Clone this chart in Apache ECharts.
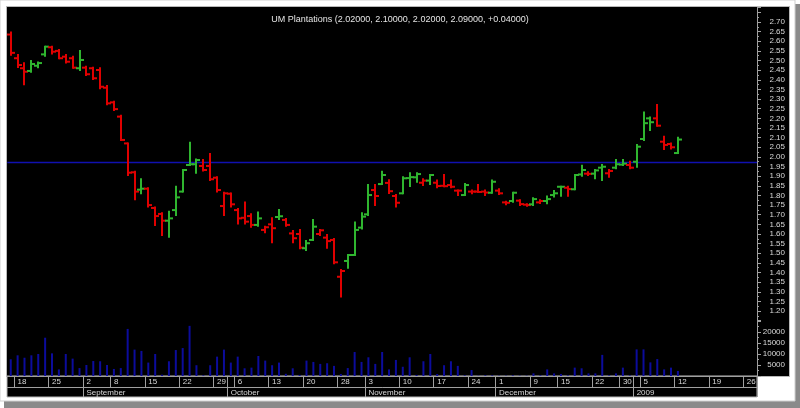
<!DOCTYPE html>
<html><head><meta charset="utf-8">
<script src="https://cdn.jsdelivr.net/npm/echarts@6/dist/echarts.min.js"></script>
<style>html,body{margin:0;padding:0;background:#fff}#c{width:800px;height:408px}</style>
</head><body><div id="c"></div>
<script>
const titleText = 'UM Plantations (2.02000, 2.10000, 2.02000, 2.09000, +0.04000)';
const dates = [
'2008-08-15',
'2008-08-18','2008-08-19','2008-08-20','2008-08-21','2008-08-22',
'2008-08-25','2008-08-26','2008-08-27','2008-08-28','2008-08-29',
'2008-09-02','2008-09-03','2008-09-04','2008-09-05',
'2008-09-08','2008-09-09','2008-09-10','2008-09-11','2008-09-12',
'2008-09-15','2008-09-16','2008-09-17','2008-09-18','2008-09-19',
'2008-09-22','2008-09-23','2008-09-24','2008-09-25','2008-09-26',
'2008-09-29','2008-09-30','2008-10-03',
'2008-10-06','2008-10-07','2008-10-08','2008-10-09','2008-10-10',
'2008-10-13','2008-10-14','2008-10-15','2008-10-16','2008-10-17',
'2008-10-20','2008-10-21','2008-10-22','2008-10-23','2008-10-24',
'2008-10-28','2008-10-29','2008-10-30','2008-10-31',
'2008-11-03','2008-11-04','2008-11-05','2008-11-06','2008-11-07',
'2008-11-10','2008-11-11','2008-11-12','2008-11-13','2008-11-14',
'2008-11-17','2008-11-18','2008-11-19','2008-11-20','2008-11-21',
'2008-11-24','2008-11-25','2008-11-26','2008-11-27',
'2008-12-01','2008-12-02','2008-12-03','2008-12-04','2008-12-05',
'2008-12-09','2008-12-10','2008-12-11','2008-12-12',
'2008-12-15','2008-12-16','2008-12-17','2008-12-18','2008-12-19',
'2008-12-22','2008-12-23','2008-12-24','2008-12-26',
'2008-12-30','2008-12-31',
'2009-01-02',
'2009-01-05','2009-01-06','2009-01-07','2009-01-08','2009-01-09',
'2009-01-12','2009-01-13','2009-01-14','2009-01-15','2009-01-16',
'2009-01-19','2009-01-20','2009-01-21','2009-01-22','2009-01-23',
'2009-01-26','2009-01-27'
];
const opens = [2.635,2.512,2.46,2.446,2.473,2.532,2.569,2.55,2.52,2.512,
2.46,2.463,2.46,2.451,2.359,2.283,2.209,2.07,1.92,1.83,
1.835,1.735,1.704,1.669,1.724,1.82,1.958,1.962,1.953,1.953,
1.892,1.745,1.809,1.724,1.684,1.693,1.647,1.621,1.65,1.688,
1.673,1.603,1.60,1.526,1.569,1.60,1.581,1.569,1.378,1.46,
1.491,1.633,1.702,1.828,1.859,1.865,1.797,1.811,1.89,1.894,
1.866,1.877,1.866,1.85,1.854,1.825,1.802,1.82,1.82,1.82,
1.814,1.825,1.764,1.771,1.773,1.752,1.754,1.764,1.771,1.802,
1.845,1.84,1.832,1.909,1.913,1.913,1.944,1.915,1.944,1.96,
1.958,1.975,2.093,2.20,2.20,2.079,2.067,2.02];
const highs = [2.645,2.529,2.486,2.498,2.49,2.572,2.572,2.555,2.529,2.52,
2.55,2.468,2.463,2.46,2.368,2.286,2.214,2.07,1.923,1.884,
1.837,1.738,1.707,1.716,1.845,1.932,2.074,1.987,1.984,2.015,
1.894,1.814,1.81,1.729,1.764,1.702,1.712,1.638,1.681,1.724,
1.678,1.615,1.621,1.563,1.673,1.621,1.595,1.574,1.413,1.491,
1.66,1.707,1.854,1.854,1.923,1.879,1.802,1.894,1.915,1.915,
1.884,1.906,1.877,1.906,1.877,1.825,1.859,1.825,1.854,1.825,
1.877,1.832,1.767,1.814,1.775,1.754,1.785,1.775,1.794,1.823,
1.845,1.845,1.906,1.954,1.92,1.932,1.958,1.932,1.984,1.984,
1.975,2.062,2.231,2.205,2.269,2.105,2.07,2.10];
const lows = [2.53,2.466,2.377,2.442,2.465,2.525,2.537,2.512,2.49,2.463,
2.451,2.425,2.404,2.356,2.273,2.243,2.088,1.906,1.78,1.811,
1.742,1.647,1.595,1.586,1.698,1.82,1.958,1.918,1.93,1.88,
1.82,1.698,1.742,1.655,1.655,1.638,1.643,1.609,1.557,1.678,
1.643,1.557,1.526,1.517,1.569,1.595,1.529,1.448,1.275,1.425,
1.491,1.629,1.698,1.75,1.859,1.813,1.742,1.811,1.849,1.871,
1.854,1.859,1.843,1.848,1.843,1.802,1.802,1.811,1.818,1.802,
1.814,1.807,1.754,1.767,1.75,1.747,1.75,1.761,1.759,1.794,
1.799,1.799,1.832,1.902,1.906,1.889,1.88,1.897,1.941,1.958,
1.941,1.949,2.088,2.139,2.162,2.041,2.044,2.02];
const closes = [2.54,2.477,2.442,2.482,2.487,2.572,2.546,2.512,2.494,2.463,
2.503,2.429,2.408,2.364,2.278,2.248,2.088,1.918,1.82,1.835,
1.75,1.693,1.669,1.681,1.79,1.932,1.962,1.984,1.932,1.884,
1.828,1.811,1.754,1.681,1.664,1.647,1.681,1.635,1.63,1.692,
1.647,1.578,1.529,1.552,1.638,1.619,1.563,1.453,1.408,1.491,
1.621,1.69,1.802,1.797,1.906,1.822,1.762,1.889,1.895,1.911,
1.877,1.906,1.849,1.848,1.845,1.825,1.854,1.82,1.818,1.815,
1.871,1.811,1.762,1.814,1.755,1.75,1.781,1.771,1.781,1.811,
1.845,1.833,1.906,1.932,1.912,1.93,1.949,1.927,1.962,1.965,
1.944,2.053,2.175,2.18,2.162,2.062,2.05,2.09];
const volumes = [7600,9400,8300,9400,10000,17400,10300,3000,10000,7900,
3600,5000,6800,6700,5000,3200,3600,21400,12000,11400,
6100,10000,600,6700,11800,12700,22800,4900,300,4900,
8800,12000,6100,8800,3500,3800,9100,7000,4900,6100,
1000,3500,500,7000,6400,5500,5800,4600,900,3600,
10900,6400,8500,5500,10900,3000,7300,
4200,8500,500,6700,10000,900,4900,6700,4600,300,
2700,150,300,300,150,150,300,150,150,1200,
300,3000,1200,900,300,3800,3500,1200,1200,9600,
300,1200,3800,300,12100,12100,6200,7700,3000,3800,2300];
const refLine = 1.97;
const monthNames = ['January','February','March','April','May','June','July','August','September','October','November','December'];

const UP = '#2fb52f', DOWN = '#e00000', AXIS = '#a0a0a0', TXT = '#d8d8d8';
const FONT = 'Liberation Sans';

function dow(s){ return new Date(s + 'T00:00:00Z').getUTCDay(); }
function dayNum(s){ return new Date(s + 'T00:00:00Z').getTime() / 86400000; }
function isWeekStart(i){
  if (i <= 0) return false;
  return dow(dates[i]) < dow(dates[i-1]) || dayNum(dates[i]) - dayNum(dates[i-1]) >= 7;
}
function isMonthStart(i){
  if (i <= 0) return false;
  return dates[i].slice(0,7) !== dates[i-1].slice(0,7);
}

const ohlc = opens.map((o, i) => [i, o, highs[i], lows[i], closes[i]]);

const chart = echarts.init(document.getElementById('c'), null, {renderer: 'canvas'});
chart.setOption({
  animation: false,
  backgroundColor: '#ffffff',
  title: {
    z: 20,
    text: titleText, left: 'center', top: 10,
    textStyle: {color: '#e4e4e4', fontSize: 9, fontWeight: 'normal', fontFamily: FONT}
  },
  graphic: {
    elements: [
      {type: 'rect', z: -5, silent: true, shape: {x: 4, y: 4, width: 796, height: 404}, style: {fill: '#8a8a8a'}},
      {type: 'rect', z: -4, silent: true, shape: {x: 0, y: 0, width: 795, height: 401}, style: {fill: '#ffffff', stroke: '#cfcfcf', lineWidth: 1}},
      {type: 'rect', z: -3, silent: true, shape: {x: 6.5, y: 6.5, width: 783, height: 370}, style: {fill: '#000000', stroke: '#b8b8b8', lineWidth: 1}}
    ]
  },
  grid: [
    {left: 7.3, right: 43, top: 7.55, bottom: 408 - 320.7},
    {left: 7.3, right: 43, top: 321, bottom: 32},
    {left: 7, right: 43, top: 376, bottom: 11, show: true, backgroundColor: '#000000', borderColor: '#b8b8b8', borderWidth: 1, z: 1}
  ],
  xAxis: [
    {gridIndex: 0, type: 'category', data: dates, boundaryGap: true, show: false},
    {gridIndex: 1, type: 'category', data: dates, boundaryGap: true, position: 'bottom', z: 10,
      axisLine: {show: true, lineStyle: {color: AXIS, width: 1}},
      axisTick: {show: true, length: 11, interval: (i) => isWeekStart(i) || isMonthStart(i), lineStyle: {color: AXIS}},
      axisLabel: {interval: (i) => isWeekStart(i), formatter: (v) => String(parseInt(v.slice(8), 10)),
        align: 'left', margin: 2, fontSize: 8, color: TXT, fontFamily: FONT}
    },
    {gridIndex: 1, type: 'category', data: dates, boundaryGap: true, position: 'bottom', offset: 11, z: 10,
      axisLine: {show: true, lineStyle: {color: AXIS, width: 1}},
      axisTick: {show: true, length: 10, interval: (i) => isMonthStart(i), lineStyle: {color: AXIS}},
      axisLabel: {interval: (i) => isMonthStart(i),
        formatter: (v) => { const m = parseInt(v.slice(5,7), 10) - 1; return m === 0 ? v.slice(0,4) : monthNames[m]; },
        align: 'left', margin: 2, fontSize: 8, color: TXT, fontFamily: FONT}
    },
    {gridIndex: 2, type: 'category', data: dates, show: false}
  ],
  yAxis: [
    {gridIndex: 0, type: 'value', position: 'right', min: 1.15, max: 2.775, interval: 0.05, z: 10,
      splitLine: {show: false},
      axisLine: {show: true, lineStyle: {color: AXIS}},
      axisTick: {show: true, length: 4, lineStyle: {color: AXIS}},
      minorTick: {show: true, splitNumber: 2, length: 2, lineStyle: {color: AXIS}},
      axisLabel: {formatter: (v) => (v > 1.199 && v < 2.701) ? v.toFixed(2) : '',
        align: 'right', margin: 28, fontSize: 8, color: TXT, fontFamily: FONT}
    },
    {gridIndex: 1, type: 'value', position: 'right', min: 0, max: 25000, interval: 5000, z: 10,
      splitLine: {show: false},
      axisLine: {show: true, lineStyle: {color: AXIS}},
      axisTick: {show: true, length: 4, lineStyle: {color: AXIS}},
      minorTick: {show: true, splitNumber: 2, length: 2, lineStyle: {color: AXIS}},
      axisLabel: {formatter: (v) => (v >= 5000 && v <= 20000) ? String(v) : '',
        align: 'right', margin: 28, fontSize: 8, color: TXT, fontFamily: FONT}
    },
    {gridIndex: 2, type: 'value', show: false}
  ],
  series: [
    {
      type: 'custom', xAxisIndex: 0, yAxisIndex: 0, data: ohlc, z: 5,
      dimensions: ['idx', 'open', 'high', 'low', 'close'],
      encode: {x: 0, y: [1, 2, 3, 4]},
      renderItem: function (params, api) {
        const i = api.value(0);
        const o = api.value(1), h = api.value(2), l = api.value(3), c = api.value(4);
        const pH = api.coord([i, h]), pL = api.coord([i, l]);
        const pO = api.coord([i, o]), pC = api.coord([i, c]);
        const x = Math.round(pH[0]);
        const up = i > 0 && c >= closes[i - 1];
        const st = {stroke: up ? UP : DOWN, lineWidth: 2};
        return {type: 'group', children: [
          {type: 'line', shape: {x1: x, y1: pH[1] - 1, x2: x, y2: pL[1] + 1}, style: st},
          {type: 'line', shape: {x1: x - 4, y1: pO[1], x2: x, y2: pO[1]}, style: st},
          {type: 'line', shape: {x1: x, y1: pC[1], x2: x + 4, y2: pC[1]}, style: st}
        ]};
      },
      markLine: {
        silent: true, symbol: 'none', label: {show: false},
        lineStyle: {color: '#1010b0', width: 1.3, type: 'solid'},
        data: [{yAxis: refLine}]
      }
    },
    {
      type: 'bar', xAxisIndex: 1, yAxisIndex: 1, data: volumes, barWidth: 2, z: 5,
      itemStyle: {color: '#0c0c9c'}
    }
  ]
});
</script></body></html>
